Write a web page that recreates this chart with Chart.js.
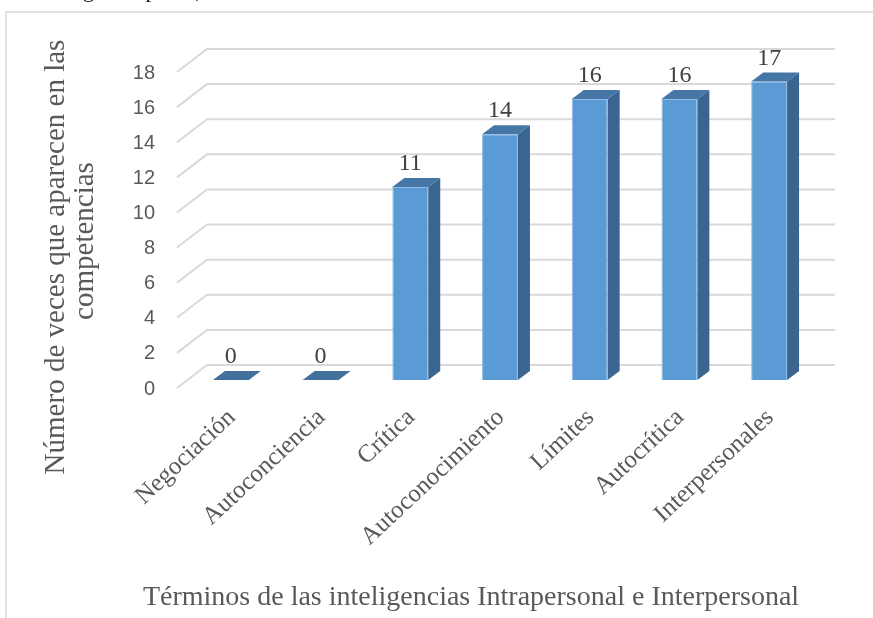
<!DOCTYPE html>
<html>
<head>
<meta charset="utf-8">
<script src="https://cdn.jsdelivr.net/npm/chart.js@4/dist/chart.umd.min.js"></script>
<style>
  html, body { margin: 0; padding: 0; background: #ffffff; }
  canvas { display: block; }
</style>
</head>
<body>
<canvas id="barChart" width="873" height="618"></canvas>
<script>
// data
var categories = ['Negociación', 'Autoconciencia', 'Crítica', 'Autoconocimiento', 'Límites', 'Autocrítica', 'Interpersonales'];
var counts = [0, 0, 11, 14, 16, 16, 17];
var yMax = 18;
var yStep = 2;
var yTitle = ['Número de veces que aparecen en las', 'competencias'];
var xTitle = 'Términos de las inteligencias Intrapersonal e Interpersonal';
var captionText = 'Frecuencia de términos según el perfil,';

// fake 3D depth, in pixels
var front = { dx: -9, dy: 8 };     // front plane (tick labels, side lines)
var back = { dx: 21, dy: -15 };    // back wall (gridlines)
var barDepth = { dx: 12, dy: -9 }; // side and top faces of the bars

var gridColor = '#d9d9d9';
var textColor = '#595959';
var serif = '"Liberation Serif", "Times New Roman", serif';
var sans = '"Liberation Sans", Arial, sans-serif';

var threeD = {
    id: 'threeD',
    beforeDatasetsDraw: function(chart) {
        var ctx = chart.ctx;
        var y = chart.scales.y;
        var area = chart.chartArea;
        ctx.save();
        ctx.strokeStyle = gridColor;
        ctx.lineWidth = 2;
        y.ticks.forEach(function(t) {
            var py = y.getPixelForValue(t.value);
            ctx.beginPath();
            ctx.moveTo(area.left + front.dx, py + front.dy);
            ctx.lineTo(area.left + back.dx, py + back.dy);
            ctx.lineTo(area.right + back.dx, py + back.dy);
            ctx.stroke();
        });
        // y tick labels on the front plane
        ctx.fillStyle = textColor;
        ctx.font = '20px ' + sans;
        ctx.textAlign = 'right';
        ctx.textBaseline = 'middle';
        y.ticks.forEach(function(t) {
            var py = y.getPixelForValue(t.value);
            ctx.fillText(t.label, area.left + front.dx - 22, py + front.dy + 1);
        });
        ctx.restore();
    },
    afterDatasetsDraw: function(chart) {
        var ctx = chart.ctx;
        var meta = chart.getDatasetMeta(0);
        ctx.save();
        meta.data.forEach(function(bar, i) {
            var l = bar.x - bar.width / 2;
            var r = bar.x + bar.width / 2;
            var top = bar.y;
            var base = bar.base;
            // side face
            if (base - top > 0.5) {
                ctx.fillStyle = '#3b6591';
                ctx.beginPath();
                ctx.moveTo(r, top);
                ctx.lineTo(r + barDepth.dx, top + barDepth.dy);
                ctx.lineTo(r + barDepth.dx, base + barDepth.dy);
                ctx.lineTo(r, base);
                ctx.closePath();
                ctx.fill();
            }
            // top face
            ctx.fillStyle = base - top > 0.5 ? '#4676a6' : '#41719c';
            ctx.beginPath();
            ctx.moveTo(l, top);
            ctx.lineTo(r, top);
            ctx.lineTo(r + barDepth.dx, top + barDepth.dy);
            ctx.lineTo(l + barDepth.dx, top + barDepth.dy);
            ctx.closePath();
            ctx.fill();
            // value label
            ctx.fillStyle = '#404040';
            ctx.font = '24px ' + serif;
            ctx.textAlign = 'center';
            ctx.textBaseline = 'alphabetic';
            ctx.fillText(String(counts[i]), bar.x, top - 17);
            // category label, rotated
            ctx.save();
            ctx.translate(bar.x + 1, 414);
            ctx.rotate(-43 * Math.PI / 180);
            ctx.fillStyle = textColor;
            ctx.font = '25px ' + serif;
            ctx.textAlign = 'right';
            ctx.textBaseline = 'middle';
            ctx.fillText(categories[i], 0, 0);
            ctx.restore();
        });

        // axis titles
        ctx.fillStyle = textColor;
        ctx.font = '28px ' + serif;
        ctx.textAlign = 'center';
        ctx.textBaseline = 'middle';
        ctx.fillText(xTitle, 471, 598);

        ctx.font = '29px ' + serif;
        ctx.save();
        ctx.translate(56, 257);
        ctx.rotate(-Math.PI / 2);
        ctx.fillText(yTitle[0], 0, 0);
        ctx.restore();
        ctx.save();
        ctx.translate(85, 241);
        ctx.rotate(-Math.PI / 2);
        ctx.fillText(yTitle[1], 0, 0);
        ctx.restore();

        // chart frame (runs past the right and bottom edges)
        ctx.strokeStyle = gridColor;
        ctx.lineWidth = 1.5;
        ctx.beginPath();
        ctx.moveTo(6, 618);
        ctx.lineTo(6, 12);
        ctx.lineTo(873, 12);
        ctx.stroke();

        // caption line of the page above, cut off at the top
        ctx.fillStyle = '#1a1a1a';
        ctx.font = '23px ' + serif;
        ctx.textAlign = 'right';
        ctx.textBaseline = 'alphabetic';
        ctx.fillText(captionText, 201, -3);
        ctx.restore();
    }
};

var ctx = document.getElementById('barChart').getContext('2d');
var chart = new Chart(ctx, {
    type: 'bar',
    data: {
        labels: categories,
        datasets: [{
            data: counts,
            backgroundColor: '#5b9bd5',
            borderColor: '#8cb9e4',
            borderWidth: 1,
            barPercentage: 0.4,
            categoryPercentage: 1.0
        }]
    },
    options: {
        responsive: false,
        devicePixelRatio: 1,
        animation: false,
        layout: {
            padding: { left: 186, right: 59, top: 64, bottom: 238 }
        },
        plugins: {
            legend: { display: false },
            tooltip: { enabled: false }
        },
        scales: {
            x: { display: false },
            y: {
                display: false,
                min: 0,
                max: yMax,
                ticks: { stepSize: yStep }
            }
        }
    },
    plugins: [threeD]
});
</script>
</body>
</html>
